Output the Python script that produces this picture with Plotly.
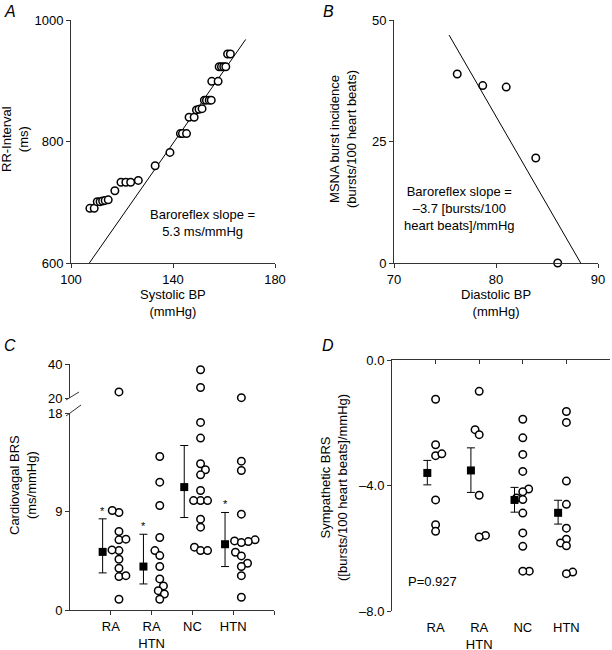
import plotly.graph_objects as go
import numpy as np

W, H = 612, 650
FONT = "Liberation Sans, Arial, sans-serif"
FS = 13

# ---------------- Panel A data ----------------
sbp = [107.4, 109.1, 110.3, 111.4, 112.4, 113.4, 114.6, 117.2, 119.6, 121.5, 123.4, 126.4,
       133.0, 138.8, 142.9, 143.7, 145.3, 146.3, 148.3, 149.2, 150.2, 151.4, 152.3, 153.1,
       154.2, 155.0, 155.2, 157.7, 158.1, 159.0, 159.9, 160.7, 161.4, 162.5]
rri = [690, 690, 701, 701, 702, 703, 704, 719, 733, 733, 733, 736,
       760, 782, 813, 813, 813, 840, 840, 852, 853, 854, 868, 868,
       868, 868, 899, 899, 923, 923, 923, 923, 944, 944]
fit_a_x = [107.2, 168.5]
fit_a_y = [600, 968]

# ---------------- Panel B data ----------------
dbp = [76.2, 78.7, 81.0, 83.9, 86.05]
msna = [38.9, 36.5, 36.2, 21.6, 0.0]
fit_b_x = [75.4, 88.3]
fit_b_y = [46.9, 0.0]

# ---------------- Panel C data ----------------
groups = ["RA", "RA<br>HTN", "NC", "HTN"]
cv_ra = [23.6, 8.91, 9.09, 7.17, 6.41, 6.47, 5.43, 5.49, 4.64, 3.81, 3.05, 3.14, 0.98]
cv_rahtn = [14.03, 11.68, 9.55, 6.62, 5.43, 4.97, 3.97, 2.84, 2.20, 1.77, 1.46, 0.98]
cv_nc = [36.6, 26.2, 17.14, 15.71, 13.36, 12.81, 12.35, 10.92, 10.0, 10.0, 10.0,
         8.30, 7.57, 5.74, 5.43, 5.43]
cv_htn = [20.2, 13.6, 12.75, 8.76, 6.41, 6.31, 6.25, 6.16, 5.28, 4.94, 4.27, 3.97, 3.14, 1.16]
cv_mean = [5.31, 3.97, 11.23, 6.01]
cv_hi = [8.33, 6.92, 15.03, 8.91]
cv_lo = [3.39, 2.38, 8.45, 3.97]
cv_sig = [True, True, False, True]
cv_ticks_low = [0, 9, 18]
cv_ticks_up = [20, 40]

# ---------------- Panel D data ----------------
sb_ra = [-1.25, -2.70, -3.05, -2.99, -4.46, -5.25, -5.46]
sb_rahtn = [-1.0, -2.22, -2.38, -4.31, -5.59, -5.64]
sb_nc = [-1.89, -2.48, -3.01, -3.55, -4.11, -4.20, -4.40, -4.45, -4.88, -5.51, -5.94, -6.73, -6.73]
sb_htn = [-1.64, -1.99, -3.86, -4.60, -5.36, -5.71, -5.83, -5.92, -6.76, -6.81]
sb_mean = [-3.60, -3.52, -4.46, -4.87]
sb_hi = [-3.20, -2.80, -4.06, -4.47]
sb_lo = [-3.98, -4.22, -4.85, -5.23]
sb_ticks = [0.0, -4.0, -8.0]
p_text = "P=0.927"


# ---------------- layout geometry (pixels) ----------------
def fx(p):
    return p / W


def fy(p):
    return 1 - p / H


dom = dict(
    A_x=[fx(71), fx(275)], A_y=[fy(263), fy(20)],
    B_x=[fx(394), fx(598)], B_y=[fy(263), fy(20)],
    C_x=[fx(70), fx(274)], C_ylo=[fy(610), fy(413)], C_yup=[fy(398), fy(364)],
    D_x=[fx(392), fx(610)], D_y=[fy(611), fy(360)],
)

MSIZE = 7.5
open_marker = dict(symbol="circle", size=MSIZE, color="white", line=dict(color="black", width=1.5))


def swarm(vals, px_per_unit_y, px_per_unit_x, d=7.0):
    """Simple beeswarm: horizontal offsets (data units) so that markers don't overlap."""
    order = np.argsort(vals)
    placed = []
    offs = np.zeros(len(vals))
    side = 1
    for i in order:
        y = vals[i] * px_per_unit_y
        cands = [0.0]
        for (py, pxx) in placed:
            dy = abs(py - y)
            if dy < d:
                dx = np.sqrt(d * d - dy * dy)
                cands += [pxx + dx, pxx - dx]
        good = [c for c in cands
                if all((c - pxx) ** 2 + (py - y) ** 2 >= d * d - 1e-6 for (py, pxx) in placed)]
        best = min(abs(c) for c in good)
        choices = [c for c in good if abs(abs(c) - best) < 1e-6]
        if len(choices) > 1:
            c = max(choices) if side > 0 else min(choices)
            side = -side
        else:
            c = choices[0]
        placed.append((y, c))
        offs[i] = c / px_per_unit_x
    return offs


fig = go.Figure()

# ---------------- Panel A ----------------
fig.add_trace(go.Scatter(x=fit_a_x, y=fit_a_y, mode="lines", line=dict(color="black", width=1),
                         xaxis="x", yaxis="y", showlegend=False))
fig.add_trace(go.Scatter(x=sbp, y=rri, mode="markers", marker=open_marker,
                         xaxis="x", yaxis="y", showlegend=False))

# ---------------- Panel B ----------------
fig.add_trace(go.Scatter(x=fit_b_x, y=fit_b_y, mode="lines", line=dict(color="black", width=1),
                         xaxis="x2", yaxis="y2", showlegend=False))
fig.add_trace(go.Scatter(x=dbp, y=msna, mode="markers", marker=open_marker, cliponaxis=False,
                         xaxis="x2", yaxis="y2", showlegend=False))

# ---------------- Panel C ----------------
C_pxx = (274 - 70) / 5.0
C_pxy = (610 - 413) / 18.0
cv_all = [cv_ra, cv_rahtn, cv_nc, cv_htn]
for gi, vals in enumerate(cv_all):
    vals = np.array(vals)
    low = vals[vals <= 18]
    up = vals[vals >= 20]
    center = gi + 1 + 0.2
    if len(low):
        o = swarm(low, C_pxy, C_pxx)
        fig.add_trace(go.Scatter(x=center + o, y=low, mode="markers", marker=open_marker,
                                 cliponaxis=False, xaxis="x3", yaxis="y3", showlegend=False))
    if len(up):
        fig.add_trace(go.Scatter(x=[center] * len(up), y=up, mode="markers", marker=open_marker,
                                 cliponaxis=False, xaxis="x3", yaxis="y4", showlegend=False))
cx = [i + 1 - 0.2 for i in range(len(groups))]
fig.add_trace(go.Scatter(
    x=cx, y=cv_mean, mode="markers",
    marker=dict(symbol="square", size=8, color="black"),
    error_y=dict(type="data", symmetric=False,
                 array=[h - m for h, m in zip(cv_hi, cv_mean)],
                 arrayminus=[m - l for m, l in zip(cv_mean, cv_lo)],
                 color="black", thickness=1, width=4),
    xaxis="x3", yaxis="y3", showlegend=False))

# ---------------- Panel D ----------------
D_pxx = (610 - 392) / 5.0
D_pxy = (611 - 360) / 8.0
sb_all = [sb_ra, sb_rahtn, sb_nc, sb_htn]
for gi, vals in enumerate(sb_all):
    vals = np.array(vals)
    o = swarm(vals, D_pxy, D_pxx, d=6.5)
    fig.add_trace(go.Scatter(x=gi + 1 + o, y=vals, mode="markers", marker=open_marker,
                             cliponaxis=False, xaxis="x4", yaxis="y5", showlegend=False))
dx = [i + 1 - 0.19 for i in range(len(groups))]
fig.add_trace(go.Scatter(
    x=dx, y=sb_mean, mode="markers",
    marker=dict(symbol="square", size=8, color="black"),
    error_y=dict(type="data", symmetric=False,
                 array=[h - m for h, m in zip(sb_hi, sb_mean)],
                 arrayminus=[m - l for m, l in zip(sb_mean, sb_lo)],
                 color="black", thickness=1, width=4),
    xaxis="x4", yaxis="y5", showlegend=False))
fig.add_trace(go.Scatter(x=[1, 4], y=[-8, -8], mode="markers", marker=dict(opacity=0),
                         hoverinfo="skip", xaxis="x5", yaxis="y5", showlegend=False))

# ---------------- axes ----------------
tickfont = dict(family=FONT, size=FS, color="black")
base = dict(showgrid=False, zeroline=False, showline=True, linecolor="#333", linewidth=1,
            ticks="outside", ticklen=4, tickwidth=1, tickcolor="#333", tickfont=tickfont)

fig.update_layout(
    xaxis=dict(base, domain=dom["A_x"], anchor="y", range=[100, 180], tickvals=[100, 140, 180]),
    yaxis=dict(base, domain=dom["A_y"], anchor="x", range=[600, 1000], tickvals=[600, 800, 1000]),
    xaxis2=dict(base, domain=dom["B_x"], anchor="y2", range=[70, 90], tickvals=[70, 80, 90]),
    yaxis2=dict(base, domain=dom["B_y"], anchor="x2", range=[0, 50], tickvals=[0, 25, 50]),
    xaxis3=dict(base, domain=dom["C_x"], anchor="y3", range=[0, 5], tickvals=[1, 2, 3, 4, 5],
                ticktext=groups + [""]),
    yaxis3=dict(base, domain=dom["C_ylo"], anchor="x3", range=[0, 18], tickvals=cv_ticks_low),
    yaxis4=dict(base, domain=dom["C_yup"], anchor="x3", range=[20, 40], tickvals=cv_ticks_up),
    xaxis4=dict(base, domain=dom["D_x"], anchor="y5", side="top", range=[0, 5],
                tickvals=[1, 2, 3, 4, 5], ticks="inside", showticklabels=False),
    xaxis5=dict(showgrid=False, zeroline=False, showline=False, overlaying="x4", side="bottom",
                anchor="y5", range=[0, 5], tickvals=[1, 2, 3, 4], ticktext=groups,
                ticks="outside", ticklen=4, tickcolor="rgba(0,0,0,0)", tickfont=tickfont),
    yaxis5=dict(base, domain=dom["D_y"], anchor="x4", range=[-8, 0], tickvals=sb_ticks,
                ticktext=[("–" if v < 0 else "") + f"{abs(v):.1f}" for v in sb_ticks]),
    width=W, height=H, margin=dict(l=0, r=0, t=0, b=0, pad=0, autoexpand=False),
    plot_bgcolor="white", paper_bgcolor="white",
    font=dict(family=FONT, size=FS, color="black"),
)

# ---------------- annotations ----------------
ann = []


def txt(x, y, text, size=FS, angle=0, italic=False, xanchor="center", yanchor="middle"):
    t = f"<i>{text}</i>" if italic else text
    ann.append(dict(x=x, y=y, xref="paper", yref="paper", text=t, showarrow=False,
                    textangle=angle, xanchor=xanchor, yanchor=yanchor,
                    font=dict(family=FONT, size=size, color="black")))


txt(fx(2), fy(12), "A", size=16, italic=True, xanchor="left")
txt(fx(321), fy(12), "B", size=16, italic=True, xanchor="left")
txt(fx(2), fy(346), "C", size=16, italic=True, xanchor="left")
txt(fx(320), fy(346), "D", size=16, italic=True, xanchor="left")

txt(fx(15), fy(139), "RR-Interval<br>(ms)", angle=-90)
txt(fx(173), fy(303), "Systolic BP<br>(mmHg)")
txt(fx(343), fy(139), "MSNA burst incidence<br>(bursts/100 heart beats)", angle=-90)
txt(fx(496), fy(303), "Diastolic BP<br>(mmHg)")
txt(fx(23), fy(485), "Cardiovagal BRS<br>(ms/mmHg)", angle=-90)
txt(fx(334), fy(487), "Sympathetic BRS<br>([bursts/100 heart beats]/mmHg)", angle=-90)

txt(fx(202), fy(223), "Baroreflex slope =<br>5.3 ms/mmHg")
txt(fx(459), fy(208), "Baroreflex slope =<br>–3.7 [bursts/100<br>heart beats]/mmHg")
txt(fx(432), fy(581), p_text)

for i, s in enumerate(cv_sig):
    if s:
        ann.append(dict(x=cx[i], y=cv_hi[i], xref="x3", yref="y3", text="*", showarrow=False,
                        yanchor="bottom", yshift=0, font=dict(family=FONT, size=11, color="black")))

fig.update_layout(annotations=ann)

# axis break marks (panel C), in paper coordinates
break_marks = [((66, 416), (81, 405)), ((66, 400), (79, 392))]
shapes = [dict(type="line", xref="paper", yref="paper",
               x0=fx(a[0]), y0=fy(a[1]), x1=fx(b[0]), y1=fy(b[1]),
               line=dict(color="#333", width=1)) for a, b in break_marks]
fig.update_layout(shapes=shapes)

fig.write_html("out.html", config={"displayModeBar": False},
               post_script="document.body.style.margin='0';document.body.style.overflow='hidden';")
